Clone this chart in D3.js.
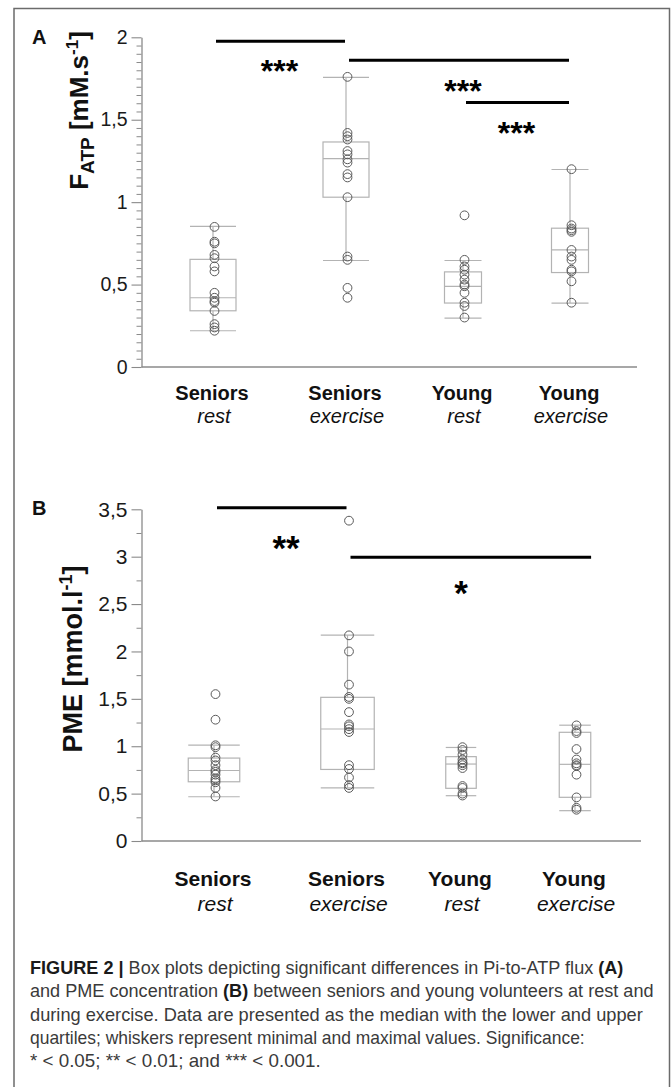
<!DOCTYPE html>
<html><head><meta charset="utf-8">
<script src="https://cdn.jsdelivr.net/npm/d3@7"></script>
<style>
body{margin:0;background:#fff}
svg{display:block}
text{font-family:"Liberation Sans",Arial,Helvetica,sans-serif}
</style>
</head><body>
<svg id="c" width="672" height="1087"></svg>
<script>
// ---------------- DATA ----------------
const groupNames = ["Seniors", "Seniors", "Young", "Young"];
const conditions = ["rest", "exercise", "rest", "exercise"];

// Panel A : F_ATP [mM.s-1]
const fatpTicks = [0, 0.5, 1, 1.5, 2];
const fatpSeniorsRest = [0.85, 0.76, 0.75, 0.68, 0.66, 0.61, 0.58, 0.45, 0.42, 0.40, 0.39, 0.34, 0.26, 0.24, 0.22];
const fatpSeniorsExercise = [1.76, 1.42, 1.40, 1.38, 1.31, 1.29, 1.26, 1.24, 1.17, 1.15, 1.03, 0.67, 0.65, 0.48, 0.42];
const fatpYoungRest = [0.92, 0.65, 0.61, 0.59, 0.56, 0.53, 0.50, 0.49, 0.45, 0.39, 0.37, 0.30];
const fatpYoungExercise = [1.20, 0.86, 0.84, 0.83, 0.82, 0.71, 0.67, 0.65, 0.59, 0.58, 0.52, 0.39];
const fatpMin    = [0.22, 0.646, 0.297, 0.388];
const fatpQ1     = [0.341, 1.03, 0.388, 0.573];
const fatpMedian = [0.42, 1.264, 0.489, 0.711];
const fatpQ3     = [0.653, 1.365, 0.577, 0.842];
const fatpMax    = [0.853, 1.757, 0.646, 1.198];
// significance: from group, to group, bar level, label, label position (group), label level
const fatpSigFrom  = [0, 1, 2];
const fatpSigTo    = [1, 3, 3];
const fatpSigLevel = [1.976, 1.861, 1.604];
const fatpSigText  = ["***", "***", "***"];
const fatpSigTextX = [0.5, 2.0, 2.5];
const fatpSigTextY = [1.84, 1.719, 1.461];

// Panel B : PME [mmol.l-1]
const pmeTicks = [0, 0.5, 1, 1.5, 2, 2.5, 3, 3.5];
const pmeSeniorsRest = [1.55, 1.28, 1.01, 0.99, 0.88, 0.85, 0.80, 0.75, 0.73, 0.70, 0.66, 0.64, 0.62, 0.56, 0.47];
const pmeSeniorsExercise = [3.38, 2.17, 2.00, 1.65, 1.52, 1.50, 1.36, 1.23, 1.21, 1.18, 1.15, 0.80, 0.76, 0.67, 0.59, 0.56];
const pmeYoungRest = [0.99, 0.96, 0.91, 0.86, 0.83, 0.82, 0.80, 0.77, 0.58, 0.56, 0.50, 0.48];
const pmeYoungExercise = [1.22, 1.16, 1.14, 0.97, 0.86, 0.82, 0.80, 0.79, 0.70, 0.46, 0.35, 0.33];
const pmeMin    = [0.467, 0.561, 0.478, 0.32];
const pmeQ1     = [0.625, 0.755, 0.556, 0.461];
const pmeMedian = [0.744, 1.182, 0.812, 0.809];
const pmeQ3     = [0.875, 1.516, 0.89, 1.147];
const pmeMax    = [1.011, 2.172, 0.987, 1.222];
const pmeSigFrom  = [0, 1];
const pmeSigTo    = [1, 3.15];
const pmeSigLevel = [3.517, 2.994];
const pmeSigText  = ["**", "*"];
const pmeSigTextX = [0.54, 2.0];
const pmeSigTextY = [3.173, 2.70];

const captionLines = [
  [["FIGURE 2 | ", true], ["Box plots depicting significant differences in Pi-to-ATP flux ", false], ["(A)", true]],
  [["and PME concentration ", false], ["(B)", true], [" between seniors and young volunteers at rest and", false]],
  [["during exercise. Data are presented as the median with the lower and upper", false]],
  [["quartiles; whiskers represent minimal and maximal values. Significance:", false]],
  [["* < 0.05; ** < 0.01; and *** < 0.001.", false]]
];

// ---------------- LAYOUT / STYLE ----------------
const svg = d3.select("#c");
const AX = 141.5;
const panels = [
  {
    label: "A", labelY: 44, labelSize: 20,
    groups: [fatpSeniorsRest, fatpSeniorsExercise, fatpYoungRest, fatpYoungExercise],
    min: fatpMin, q1: fatpQ1, med: fatpMedian, q3: fatpQ3, max: fatpMax,
    ticks: fatpTicks, domain: [0, 2], yRange: [367, 37.3], minorStep: 0.05,
    xPos: [213, 346, 463, 570], boxW: [46, 46, 37, 37], xEnd: 637,
    tickFont: 19.5, catFont: 20, catY1: 400, catY2: 423,
    sig: {from: fatpSigFrom, to: fatpSigTo, level: fatpSigLevel, text: fatpSigText, tx: fatpSigTextX, ty: fatpSigTextY},
    starSize: 32,
    title: {x: 87.5, y: 110.5, size: 26, parts: "A"}
  },
  {
    label: "B", labelY: 514.5, labelSize: 20,
    groups: [pmeSeniorsRest, pmeSeniorsExercise, pmeYoungRest, pmeYoungExercise],
    min: pmeMin, q1: pmeQ1, med: pmeMedian, q3: pmeQ3, max: pmeMax,
    ticks: pmeTicks, domain: [0, 3.5], yRange: [841, 509.3], minorStep: 0.25,
    xPos: [214, 347.5, 461, 575], boxW: [51.5, 53.5, 30.5, 31.5], xEnd: 641,
    tickFont: 21, catFont: 21, catY1: 886, catY2: 911,
    sig: {from: pmeSigFrom, to: pmeSigTo, level: pmeSigLevel, text: pmeSigText, tx: pmeSigTextX, ty: pmeSigTextY},
    starSize: 35,
    title: {x: 82, y: 659, size: 27, parts: "B"}
  }
];

const axisColor = "#8a8a8a";
const boxColor = "#b3b3b3";
const dotColor = "#5a5a5a";

// frame
svg.append("rect").attr("x", 14).attr("y", 8.5).attr("width", 655.5).attr("height", 1200)
  .attr("fill", "none").attr("stroke", "#6b6b6b").attr("stroke-width", 1.5);

panels.forEach(p => {
  const g = svg.append("g");
  const y = d3.scaleLinear().domain(p.domain).range(p.yRange);
  const x = d3.scaleLinear().domain([0, 1, 2, 3]).range(p.xPos);

  // panel letter
  g.append("text").attr("x", 32).attr("y", p.labelY).attr("font-size", p.labelSize)
    .attr("font-weight", "bold").attr("fill", "#111").text(p.label);

  // minor ticks
  const majors = new Set(p.ticks.map(d => d.toFixed(3)));
  const minorVals = d3.range(0, p.domain[1] + 1e-9, p.minorStep).filter(v => !majors.has(v.toFixed(3)));
  const minorAxis = g.append("g").attr("transform", `translate(${AX},0)`)
    .call(d3.axisLeft(y).tickValues(minorVals).tickSize(5).tickSizeOuter(0).tickFormat(""));
  minorAxis.select(".domain").remove();
  minorAxis.selectAll("line").attr("stroke", axisColor);

  // major axis
  const yAxis = g.append("g").attr("transform", `translate(${AX},0)`)
    .call(d3.axisLeft(y).tickValues(p.ticks).tickSize(10).tickSizeOuter(0).tickPadding(4)
      .tickFormat(d => String(d).replace(".", ",")));
  yAxis.select(".domain").attr("stroke", axisColor).attr("stroke-width", 1.3);
  yAxis.selectAll("line").attr("stroke", axisColor).attr("stroke-width", 1.1);
  yAxis.selectAll("text").attr("font-size", p.tickFont).attr("fill", "#1a1a1a")
    .attr("font-family", "Liberation Sans, Arial, sans-serif");

  // x axis line
  g.append("line").attr("x1", AX).attr("x2", p.xEnd).attr("y1", y(0)).attr("y2", y(0))
    .attr("stroke", axisColor).attr("stroke-width", 1.5);

  // boxes
  const idx = d3.range(4);
  const bx = g.append("g").attr("stroke", boxColor).attr("stroke-width", 1.2).attr("fill", "none");
  idx.forEach(i => {
    const cx = x(i), w = p.boxW[i];
    bx.append("line").attr("x1", cx).attr("x2", cx).attr("y1", y(p.max[i])).attr("y2", y(p.q3[i]));
    bx.append("line").attr("x1", cx).attr("x2", cx).attr("y1", y(p.q1[i])).attr("y2", y(p.min[i]));
    bx.append("line").attr("x1", cx - w / 2).attr("x2", cx + w / 2).attr("y1", y(p.max[i])).attr("y2", y(p.max[i]));
    bx.append("line").attr("x1", cx - w / 2).attr("x2", cx + w / 2).attr("y1", y(p.min[i])).attr("y2", y(p.min[i]));
    bx.append("rect").attr("x", cx - w / 2).attr("width", w).attr("y", y(p.q3[i])).attr("height", y(p.q1[i]) - y(p.q3[i]));
    bx.append("line").attr("x1", cx - w / 2).attr("x2", cx + w / 2).attr("y1", y(p.med[i])).attr("y2", y(p.med[i]));
  });

  // points
  idx.forEach(i => {
    g.append("g").selectAll("circle").data(p.groups[i]).join("circle")
      .attr("cx", x(i) + 1.5).attr("cy", d => y(d)).attr("r", 4.4)
      .attr("fill", "none").attr("stroke", dotColor).attr("stroke-width", 1);
  });

  // significance bars
  p.sig.from.forEach((f, k) => {
    g.append("line").attr("x1", x(f) + 3).attr("x2", x(p.sig.to[k]) - 1)
      .attr("y1", y(p.sig.level[k])).attr("y2", y(p.sig.level[k]))
      .attr("stroke", "#000").attr("stroke-width", 3);
    g.append("text").attr("x", x(p.sig.tx[k])).attr("y", y(p.sig.ty[k]) + 0.57 * p.starSize)
      .attr("text-anchor", "middle").attr("font-size", p.starSize).attr("font-weight", "bold")
      .attr("fill", "#000").text(p.sig.text[k]);
  });

  // category labels
  idx.forEach(i => {
    g.append("text").attr("x", x(i) - 1).attr("y", p.catY1).attr("text-anchor", "middle")
      .attr("font-size", p.catFont).attr("font-weight", "bold").attr("fill", "#111").text(groupNames[i]);
    g.append("text").attr("x", x(i) + 1).attr("y", p.catY2).attr("text-anchor", "middle")
      .attr("font-size", p.catFont).attr("font-style", "italic").attr("fill", "#111").text(conditions[i]);
  });

  // y title
  const t = g.append("text").attr("transform", `translate(${p.title.x},${p.title.y}) rotate(-90)`)
    .attr("text-anchor", "middle").attr("font-size", p.title.size).attr("font-weight", "bold").attr("fill", "#111");
  if (p.title.parts === "A") {
    t.append("tspan").text("F");
    t.append("tspan").attr("font-size", 19).attr("dy", 6).text("ATP");
    t.append("tspan").attr("dy", -6).text(" [mM.s");
    t.append("tspan").attr("font-size", 17).attr("dy", -10).text("-1");
    t.append("tspan").attr("dy", 10).text("]");
  } else {
    t.append("tspan").text("PME [mmol.l");
    t.append("tspan").attr("font-size", 18).attr("dy", -10).text("-1");
    t.append("tspan").attr("dy", 10).text("]");
  }
});

// caption
const capBase = [974, 997.3, 1020.7, 1043.7, 1066.7];
const capEnd = [623.6, 653.6, 643, 585, 321];
captionLines.forEach((line, i) => {
  const t = svg.append("text").attr("font-size", 17.5).attr("fill", "#333");
  line.forEach(([s, b]) => {
    t.append("tspan").attr("font-weight", b ? "bold" : "normal").attr("fill", b ? "#1a1a1a" : "#3a3a3a").text(s);
  });
  const len = t.node().getComputedTextLength();
  const sx = (capEnd[i] - 30) / len;
  t.attr("transform", `translate(30,${capBase[i]}) scale(${sx},1)`);
});
</script>
</body></html>
